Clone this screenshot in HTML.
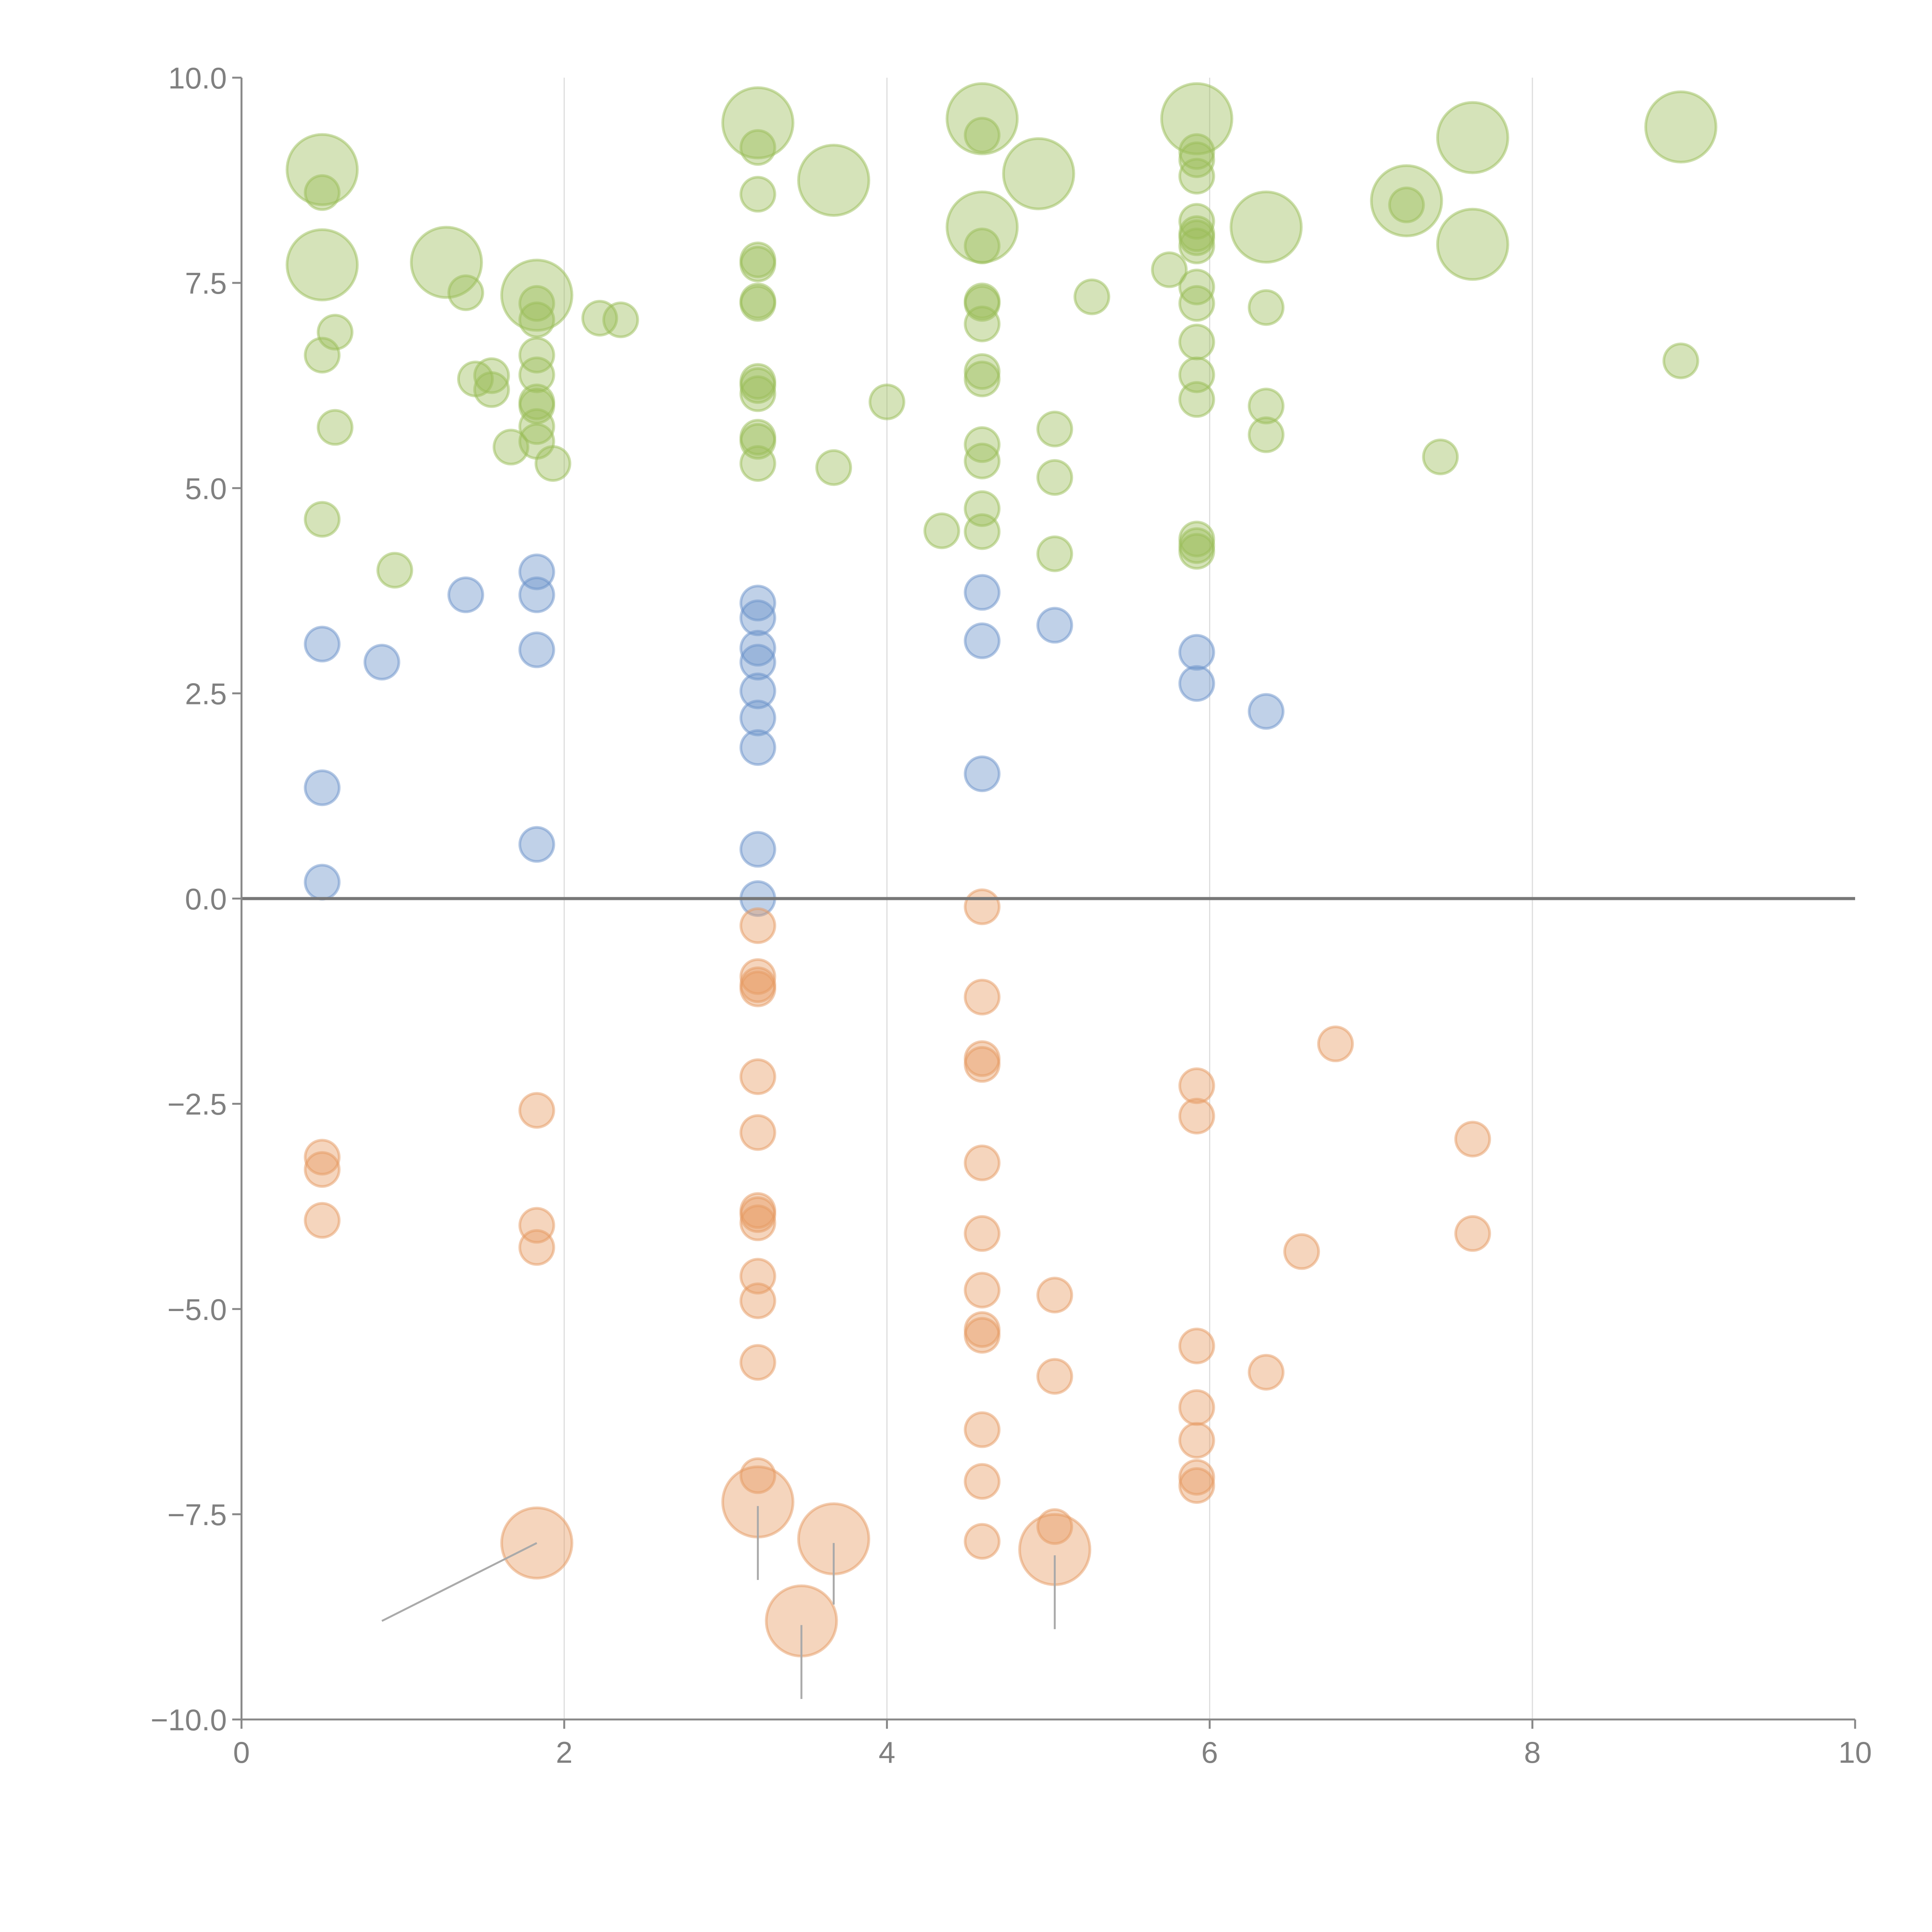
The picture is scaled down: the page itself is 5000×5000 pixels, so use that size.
<!DOCTYPE html>
<html><head><meta charset="utf-8">
<style>html,body{margin:0;padding:0;background:#fff}svg{display:block}</style>
</head><body>
<svg id="chart" width="5000" height="5000" viewBox="0 0 5000 5000" xmlns="http://www.w3.org/2000/svg" font-family="Liberation Sans, sans-serif"></svg>
<script>
const greenSmall = [[0.5,8.6],[0.58,6.9],[0.5,6.62],[0.58,5.74],[0.5,4.62],[0.95,4.0],[1.39,7.38],[1.45,6.33],[1.55,6.37],[1.55,6.2],[1.67,5.5],[1.83,7.25],[1.83,7.05],[1.83,6.62],[1.83,6.38],[1.83,6.05],[1.83,6.0],[1.83,5.75],[1.83,5.57],[1.93,5.3],[2.22,7.07],[2.35,7.05],
[3.2,9.15],[3.2,8.58],[3.2,7.78],[3.2,7.73],[3.2,7.28],[3.2,7.25],[3.2,6.3],[3.2,6.25],[3.2,6.15],[3.2,5.62],[3.2,5.57],[3.2,5.3],[3.67,5.25],[4.0,6.05],
[4.59,9.3],[4.59,7.95],[4.59,7.28],[4.59,7.25],[4.59,7.0],[4.59,6.42],[4.59,6.33],[4.59,5.53],[4.59,5.33],[4.59,4.75],[4.59,4.47],[4.34,4.48],
[5.04,5.72],[5.04,5.13],[5.04,4.2],[5.27,7.33],[5.75,7.66],
[5.92,9.1],[5.92,9.0],[5.92,8.8],[5.92,8.25],[5.92,8.1],[5.92,8.05],[5.92,7.95],[5.92,7.45],[5.92,7.25],[5.92,6.78],[5.92,6.38],[5.92,6.08],[5.92,4.38],[5.92,4.3],[5.92,4.23],
[6.35,7.2],[6.35,6.0],[6.35,5.65],[7.22,8.45],[7.43,5.38],[8.92,6.55]];
const greenLarge = [[0.5,8.88],[0.5,7.72],[1.27,7.75],[1.83,7.35],[3.2,9.45],[3.67,8.75],[4.59,9.5],[4.59,8.18],[4.94,8.83],[5.92,9.5],[6.35,8.18],[7.22,8.5],[7.63,9.27],[7.63,7.97],[8.92,9.4]];
const blueSmall = [[0.5,3.1],[0.5,1.35],[0.5,0.2],[0.87,2.88],[1.39,3.7],[1.83,3.98],[1.83,3.7],[1.83,3.03],[1.83,0.66],[3.2,3.6],[3.2,3.42],[3.2,3.05],[3.2,2.88],[3.2,2.53],[3.2,2.2],[3.2,1.84],[3.2,0.6],[3.2,0.0],[4.59,3.73],[4.59,3.14],[4.59,1.52],[5.04,3.33],[5.92,3.0],[5.92,2.62],[6.35,2.28]];
const orangeSmall = [[0.5,-3.15],[0.5,-3.3],[0.5,-3.92],[1.83,-2.58],[1.83,-3.98],[1.83,-4.25],[3.2,-0.33],[3.2,-0.95],[3.2,-1.05],[3.2,-1.1],[3.2,-2.17],[3.2,-2.85],[3.2,-3.8],[3.2,-3.85],[3.2,-3.95],[3.2,-4.6],[3.2,-4.9],[3.2,-5.65],[3.2,-7.03],[4.59,-0.1],[4.59,-1.2],[4.59,-1.95],[4.59,-2.02],[4.59,-3.22],[4.59,-4.08],[4.59,-4.77],[4.59,-5.25],[4.59,-5.32],[4.59,-6.47],[4.59,-7.1],[4.59,-7.83],[5.04,-4.83],[5.04,-5.82],[5.04,-7.65],[5.92,-2.28],[5.92,-2.65],[5.92,-5.45],[5.92,-6.2],[5.92,-6.6],[5.92,-7.05],[5.92,-7.15],[6.35,-5.77],[6.57,-4.3],[6.78,-1.77],[7.63,-2.93],[7.63,-4.08]];
const orangeLarge = [[1.83,-7.85],[3.2,-7.35],[3.67,-7.8],[3.47,-8.8],[5.04,-7.93]];
const orangeLeaders = [[0.87,-8.8,1.83,-7.85],[3.2,-7.4,3.2,-8.3],[3.67,-7.85,3.67,-8.6],[3.47,-8.85,3.47,-9.75],[5.04,-8.0,5.04,-8.9]];
const xTicks = [0,2,4,6,8,10];
const yTicks = [-10,-7.5,-5,-2.5,0,2.5,5,7.5,10];
const yTickLabels = ["−10.0","−7.5","−5.0","−2.5","0.0","2.5","5.0","7.5","10.0"];

const X0=625, X1=4801, Y0=4450, Y1=201;
const sx = v => X0 + (v-0)/10*(X1-X0);
const sy = v => Y0 - (v+10)/20*(Y0-Y1);
const svg = document.getElementById('chart');
const NS='http://www.w3.org/2000/svg';
function mk(tag, attrs){const e=document.createElementNS(NS,tag);for(const k in attrs)e.setAttribute(k,attrs[k]);svg.appendChild(e);return e;}

xTicks.forEach(t=>{ if(t>0&&t<10){const g=mk('line',{x1:sx(t),x2:sx(t),y1:Y1,y2:Y0,stroke:'#dddddd','stroke-width':3});

}});

function dots(arr, r, fill, stroke, name){
  arr.forEach(p=>{const c=mk('circle',{cx:sx(p[0]),cy:sy(p[1]),r:r,fill:fill,'fill-opacity':0.42,stroke:stroke,'stroke-opacity':0.5,'stroke-width':7});
  
  });
}
dots(greenSmall,44,'#9abd58','#9abd58','green-bubble');
dots(greenLarge,91,'#9abd58','#9abd58','green-bubble-large');
dots(blueSmall,44,'#6a91c9','#6a91c9','blue-bubble');
dots(orangeSmall,44,'#e69a62','#e69a62','orange-bubble');
dots(orangeLarge,91,'#e69a62','#e69a62','orange-bubble-large');

orangeLeaders.forEach(l=>{const ln=mk('line',{x1:sx(l[0]),y1:sy(l[1]),x2:sx(l[2]),y2:sy(l[3]),stroke:'#aaaaaa','stroke-width':5});

});

const zl=mk('line',{x1:X0,x2:X1,y1:sy(0),y2:sy(0),stroke:'#777777','stroke-width':8});


const ya=mk('line',{x1:X0,x2:X0,y1:Y1,y2:Y0,stroke:'#888888','stroke-width':5});


const xa=mk('line',{x1:X0,x2:X1,y1:Y0,y2:Y0,stroke:'#888888','stroke-width':5});



xTicks.forEach(t=>{const tk=mk('line',{x1:sx(t),x2:sx(t),y1:Y0,y2:Y0+24,stroke:'#888888','stroke-width':5});


const tx=mk('text',{x:sx(t),y:Y0+112,'text-anchor':'middle','font-size':78,fill:'#808080'});
tx.textContent=t;

});
yTicks.forEach((t,i)=>{const tk=mk('line',{x1:X0-24,x2:X0,y1:sy(t),y2:sy(t),stroke:'#888888','stroke-width':5});


const tx=mk('text',{x:X0-38,y:sy(t)+28,'text-anchor':'end','font-size':78,fill:'#808080'});
tx.textContent=yTickLabels[i];

});
</script>
</body></html>
